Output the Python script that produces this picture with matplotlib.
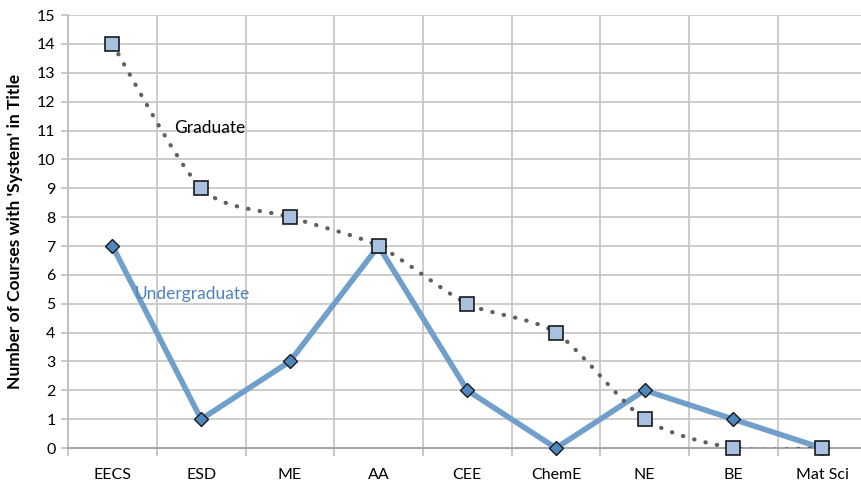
import numpy as np
import matplotlib
matplotlib.use("Agg")
import matplotlib.pyplot as plt
from matplotlib.path import Path
from matplotlib.patches import PathPatch

#=== Data ===
departments = ["EECS", "ESD", "ME", "AA", "CEE", "ChemE", "NE", "BE", "Mat Sci"]
graduate = [14, 9, 8, 7, 5, 4, 1, 0, 0]
undergraduate = [7, 1, 3, 7, 2, 0, 2, 1, 0]

plt.rcParams['font.family'] = ['Lato', 'DejaVu Sans']

#=== Helpers ===
def smooth_path(xs, ys, t=0.13):
    # Excel-style smoothed line: cubic bezier through the points
    pts = np.column_stack([xs, ys]).astype(float)
    verts = [pts[0]]
    codes = [Path.MOVETO]
    n = len(pts)
    for i in range(n - 1):
        p0 = pts[i - 1] if i > 0 else pts[i]
        p1 = pts[i]
        p2 = pts[i + 1]
        p3 = pts[i + 2] if i + 2 < n else pts[i + 1]
        c1 = p1 + (p2 - p0) * t
        c2 = p2 - (p3 - p1) * t
        verts += [c1, c2, p2]
        codes += [Path.CURVE4] * 3
    return Path(verts, codes)

#=== Plot ===
fig = plt.figure(figsize=(8.62, 4.86), dpi=100)
ax = fig.add_axes([0.079, 0.078, 0.921, 0.891])

x = np.arange(len(departments))

# grid
ax.set_xticks(np.arange(-0.5, len(departments), 1.0))
ax.set_xticks(x, minor=True)
ax.set_xticklabels([])
ax.set_xticklabels(departments, minor=True)
ax.tick_params(axis='x', which='major', length=6, color='#bfbfbf', width=1.2, direction='out')
ax.tick_params(axis='x', which='minor', length=0, pad=14, labelsize=11.5)
ax.set_yticks(range(0, 16))
ax.tick_params(axis='y', length=5, color='#bfbfbf', width=1.2, labelsize=11.5, pad=4)
ax.grid(True, which='major', color='#c8c8c8', lw=1.3)
ax.set_axisbelow(True)
for s in ['top', 'right']:
    ax.spines[s].set_visible(False)
ax.spines['left'].set_color('#bfbfbf')
ax.spines['bottom'].set_color('#a6a6a6')
ax.spines['left'].set_linewidth(1.3)
ax.spines['bottom'].set_linewidth(1.5)

# undergraduate
ax.plot(x, undergraduate, color='#6f9fca', lw=4, marker='D', markersize=7,
        markerfacecolor='#4f86bd', markeredgecolor='#1a1a1a', markeredgewidth=1.0,
        zorder=3, clip_on=False)

# graduate (smoothed dotted)
patch = PathPatch(smooth_path(x, graduate), facecolor='none', edgecolor='#606060',
                  lw=3, linestyle=(0, (0.1, 2.7)), capstyle='round', zorder=4)
ax.add_patch(patch)
ax.plot(x, graduate, linestyle='none', marker='s', markersize=10,
        markerfacecolor='#a9c1e0', markeredgecolor='#1a1a1a', markeredgewidth=1.2,
        zorder=5, clip_on=False)

ax.text(0.7, 11.1, "Graduate", fontsize=12.5, color='#000000', va='center')
ax.text(0.25, 5.35, "Undergraduate", fontsize=12.5, color='#4f81bd', va='center')

ax.set_xlim(-0.5, 8.45)
ax.set_ylim(0, 15)
ax.set_ylabel("Number of Courses with 'System' in Title", fontsize=12.5,
              fontweight='bold', labelpad=10)

fig.savefig("out.png", dpi=100)
